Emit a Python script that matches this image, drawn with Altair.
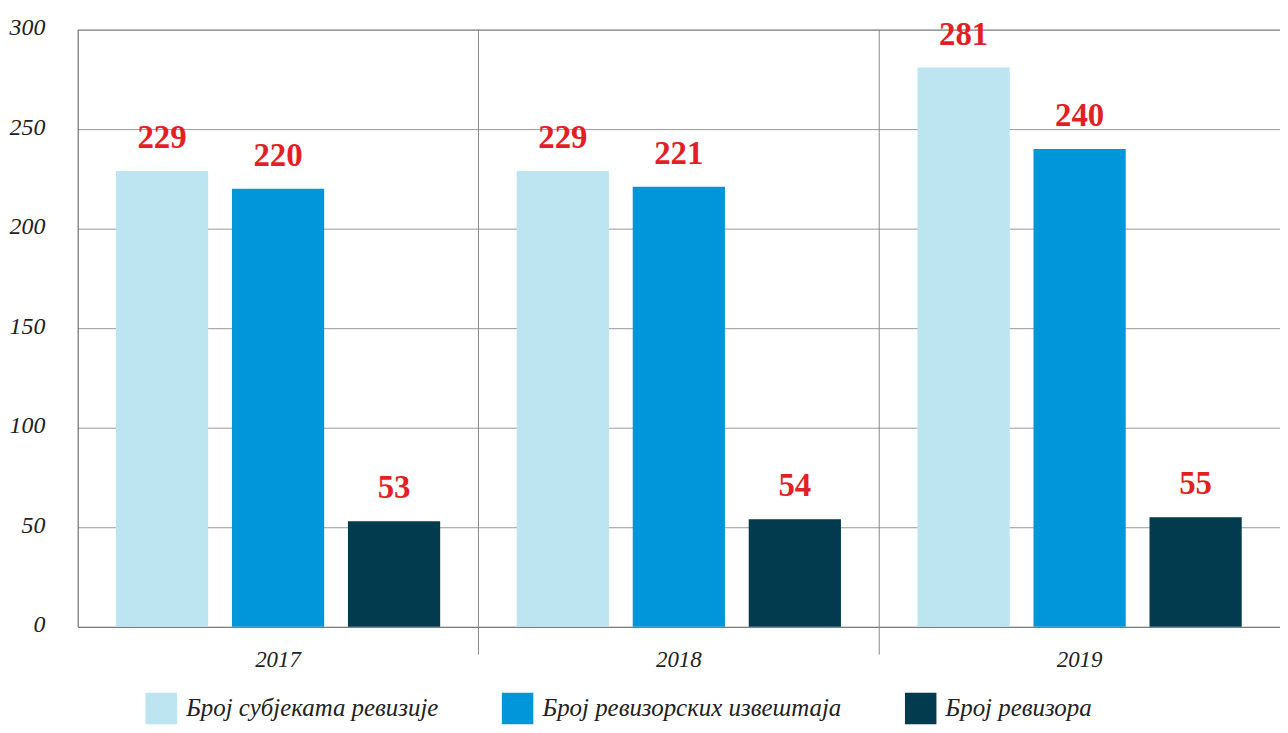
import altair as alt
import pandas as pd

years = ["2017", "2018", "2019"]
series = ["Број субјеката ревизије", "Број ревизорских извештаја", "Број ревизора"]
subjects = [229, 229, 281]
reports = [220, 221, 240]
auditors = [53, 54, 55]
colors = ["#bce4f1", "#0096d9", "#023a4e"]
y_ticks = [0, 50, 100, 150, 200, 250, 300]
separators = ["2018", "2019"]

rows = []
for i, yr in enumerate(years):
    for s, vals in zip(series, [subjects, reports, auditors]):
        rows.append({"year": yr, "series": s, "value": vals[i]})
df = pd.DataFrame(rows)

FONT = "Liberation Serif"

x_enc = alt.X(
    "year:N", sort=years,
    scale=alt.Scale(paddingInner=0, paddingOuter=0),
    axis=alt.Axis(title=None, labelAngle=0, ticks=False, domain=False, grid=False,
                  labelFont=FONT, labelFontStyle="italic", labelFontSize=23,
                  labelColor="#222", labelPadding=22),
)
xoff = alt.XOffset("series:N", sort=series,
                   scale=alt.Scale(paddingInner=0.205, paddingOuter=0.33))
y_enc = alt.Y(
    "value:Q",
    scale=alt.Scale(domain=[0, 300], nice=False),
    axis=alt.Axis(values=y_ticks, title=None, ticks=False, domain=True, domainColor="#555",
                  grid=True,
                  gridColor=alt.condition("datum.value == 0 || datum.value == 300",
                                          alt.value("#555"), alt.value("#999")),
                  labelFont=FONT, labelFontStyle="italic", labelFontSize=24,
                  labelColor="#222", labelPadding=33, labelOffset=-2),
)

base = alt.Chart(df)

bars = base.mark_bar().encode(
    x=x_enc, xOffset=xoff, y=y_enc,
    color=alt.Color("series:N", sort=series,
                    scale=alt.Scale(domain=series, range=colors),
                    legend=alt.Legend(orient="none", legendX=68, legendY=666,
                                      direction="horizontal", title=None,
                                      symbolType="square", symbolSize=1000,
                                      symbolStrokeWidth=0, labelFont=FONT,
                                      labelFontStyle="italic", labelFontSize=25,
                                      labelColor="#222", labelOffset=9,
                                      columnPadding=63, padding=0, labelLimit=400)),
)

labels = base.mark_text(dy=-23, baseline="alphabetic", font=FONT, fontWeight="bold",
                        fontSize=33, color="#e31f26").encode(
    x=alt.X("year:N", sort=years), xOffset=xoff, y="value:Q", text="value:Q",
)

seps = alt.Chart(pd.DataFrame({"year": separators})).mark_rule(
    color="#888", strokeWidth=1).encode(
    x=alt.X("year:N", sort=years, bandPosition=0),
    y=alt.value(0), y2=alt.value(628),
)

chart = alt.layer(bars, seps, labels).properties(
    width=1208, height=600,
    padding={"left": 70, "top": 20, "right": 0, "bottom": 97},
    autosize=alt.AutoSizeParams(type="none"),
).configure_view(stroke=None)

chart.save("out.html", embed_options={"renderer": "svg", "actions": False})
